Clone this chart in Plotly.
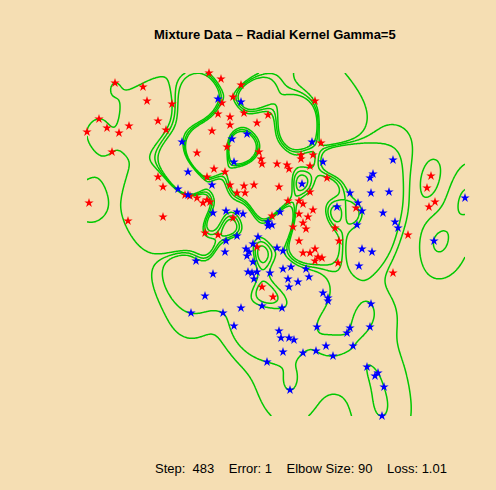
import numpy as np
import plotly.graph_objects as go

# Mixture data (two classes), feature values on the plotting grid
red_x = [115, 143, 147, 172, 99, 158, 129, 107, 87, 119, 166, 112, 197, 158,
         209, 221, 241, 233, 222, 244, 218, 230, 268, 257, 230, 212, 227, 259,
         261, 262, 277, 287, 289, 301, 313, 301, 310, 315, 214, 225, 207,
         321, 327, 431,
         89, 128, 163, 163, 185, 190, 197,
         230, 244, 254, 279, 310, 237, 245, 207, 210, 203, 299, 303, 288, 313,
         299, 308, 272, 233, 293, 303, 306, 218, 205, 299, 257, 303, 315, 310,
         318, 315, 262, 273,
         427, 435, 429, 356, 335, 408, 339, 322, 338, 393]
red_y = [83, 87, 101, 104, 119, 121, 126, 128, 132, 133, 130, 152, 153, 177,
         73, 79, 85, 97, 103, 113, 114, 117, 115, 123, 125, 131, 147, 152,
         159, 164, 164, 165, 169, 155, 155, 159, 166, 101, 169, 172, 177,
         143, 178, 176,
         203, 221, 217, 187, 195, 196, 198,
         185, 186, 185, 187, 192, 193, 193, 200, 202, 203, 201, 204, 201, 210,
         214, 217, 216, 218, 227, 223, 229, 235, 233, 241, 247, 253, 249, 253,
         257, 261, 287, 297,
         188, 202, 207, 208, 228, 235, 241, 258, 263, 273]

blue_x = [182, 188,
          218, 241, 247, 232, 234, 312,
          323, 393, 373, 370,
          178, 188, 196,
          212, 302, 213, 226, 237, 243, 280, 268, 272, 268, 237, 226, 258, 253,
          246, 249, 225, 277, 283, 247, 253, 248, 252, 257, 254, 270, 213, 283,
          291, 306, 309, 288, 298, 289, 205,
          350, 371, 389, 465, 337, 358, 362, 383, 395, 398, 357, 434, 362, 372,
          359, 323, 328,
          191,
          223, 241, 262, 282, 234, 317, 279, 281, 289, 294, 283, 303, 316, 267,
          290,
          328, 371, 370, 350, 347, 326, 353, 333, 367, 378, 375, 384, 382]
blue_y = [142, 172,
          99, 102, 134, 139, 162, 142,
          162, 160, 174, 178,
          189, 195, 261,
          185, 184, 213, 211, 212, 214, 212, 222, 225, 226, 236, 241, 237, 244,
          249, 252, 252, 248, 251, 256, 262, 272, 273, 272, 279, 273, 274, 269,
          267, 269, 277, 279, 282, 287, 296,
          193, 193, 192, 198, 207, 203, 211, 213, 222, 228, 225, 241, 249, 252,
          266, 293, 298,
          313,
          313, 308, 306, 308, 326, 327, 331, 338, 338, 340, 352, 353, 351, 362,
          390,
          301, 304, 327, 328, 333, 346, 346, 356, 367, 373, 376, 387, 416]

gamma = 5.0
# grid units per original feature unit (horizontal, vertical)
scale_x, scale_y = 57.0, 71.0
cost = 2000.0

X = np.column_stack([np.array(red_x + blue_x, float) / scale_x,
                     np.array(red_y + blue_y, float) / scale_y])
y = np.array([1.0] * len(red_x) + [-1.0] * len(blue_x))


def rbf(a, b):
    d2 = ((a[:, None, :] - b[None, :, :]) ** 2).sum(-1)
    return np.exp(-gamma * d2)


# kernel SVM, dual coordinate ascent with the intercept folded into the kernel
K = rbf(X, X) + 1.0
Q = K * y[:, None] * y[None, :]
alpha = np.zeros(len(y))
grad = Q @ alpha
for sweep in range(3000):
    for i in range(len(y)):
        new = min(max(alpha[i] + (1.0 - grad[i]) / Q[i, i], 0.0), cost)
        step = new - alpha[i]
        if step != 0.0:
            grad += step * Q[:, i]
            alpha[i] = new

# decision function over the data range
gx = np.linspace(min(red_x + blue_x), max(red_x + blue_x), 300)
gy = np.linspace(min(red_y + blue_y), max(red_y + blue_y), 280)
GX, GY = np.meshgrid(gx, gy)
G = np.column_stack([GX.ravel() / scale_x, GY.ravel() / scale_y])
F = ((rbf(G, X) + 1.0) @ (alpha * y)).reshape(GX.shape)

fig = go.Figure()
fig.add_trace(go.Contour(
    x=gx, y=gy, z=F,
    contours=dict(coloring="none", start=-1, end=1, size=1, showlabels=False),
    line=dict(color="#00C800", width=1.5),
    colorscale=[[0, "#00C800"], [1, "#00C800"]],
    showscale=False, hoverinfo="skip",
))
fig.add_trace(go.Scatter(
    x=red_x, y=red_y, mode="markers",
    marker=dict(symbol="star", size=7, color="#FF0000", line=dict(width=0)),
))
fig.add_trace(go.Scatter(
    x=blue_x, y=blue_y, mode="markers",
    marker=dict(symbol="star", size=7, color="#0000FF", line=dict(width=0)),
))

bg = "#F5DEB3"
fig.update_layout(
    width=496, height=490,
    margin=dict(l=0, r=0, t=0, b=0),
    paper_bgcolor=bg, plot_bgcolor=bg,
    showlegend=False,
    xaxis=dict(range=[0, 496], visible=False, fixedrange=True),
    yaxis=dict(range=[490, 0], visible=False, fixedrange=True),
    font=dict(family="Liberation Sans, Arial, sans-serif", color="black"),
    annotations=[
        dict(text="<b>Mixture Data – Radial Kernel Gamma=5</b>",
             x=275 / 496, y=1 - 35 / 490, xref="paper", yref="paper",
             showarrow=False, font=dict(size=13), xanchor="center", yanchor="middle"),
        dict(text="Step:  483    Error: 1    Elbow Size: 90    Loss: 1.01",
             x=301 / 496, y=1 - 468 / 490, xref="paper", yref="paper",
             showarrow=False, font=dict(size=13), xanchor="center", yanchor="middle"),
    ],
)

fig.write_html("out.html")
